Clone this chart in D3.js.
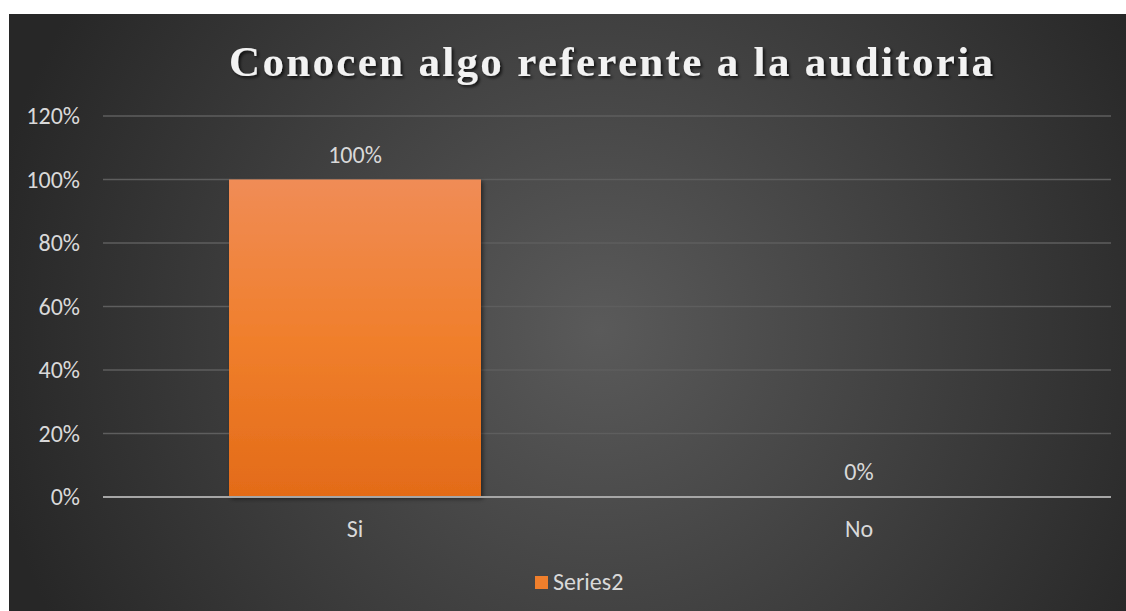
<!DOCTYPE html>
<html>
<head>
<meta charset="utf-8">
<script src="https://cdn.jsdelivr.net/npm/d3@7"></script>
<style>
  html, body { margin: 0; padding: 0; background: #fff; }
  svg { display: block; }
</style>
</head>
<body>
<svg id="svg" width="1126" height="611"></svg>
<script>
const categories = ['Si', 'No']
const values = [1.0, 0.0]
const yTicks = [0, 0.2, 0.4, 0.6, 0.8, 1.0, 1.2]
const seriesName = 'Series2'
const title = 'Conocen algo referente a la auditoria'

const W = 1126, H = 611
const plot = { left: 103, right: 1111, top: 116, bottom: 497 }
const labelFont = 'Carlito, "Open Sans", sans-serif'

const svg = d3.select('#svg')
const defs = svg.append('defs')

// background radial gradient
const bg = defs.append('radialGradient')
    .attr('id', 'bg')
    .attr('gradientUnits', 'userSpaceOnUse')
    .attr('cx', 600).attr('cy', 330).attr('r', 620)
bg.append('stop').attr('offset', '0%').attr('stop-color', '#5a5a5a')
bg.append('stop').attr('offset', '100%').attr('stop-color', '#272727')

const barGrad = defs.append('linearGradient')
    .attr('id', 'bar')
    .attr('x1', 0).attr('y1', 0).attr('x2', 0).attr('y2', 1)
barGrad.append('stop').attr('offset', '0%').attr('stop-color', '#f08c56')
barGrad.append('stop').attr('offset', '50%').attr('stop-color', '#f07f2c')
barGrad.append('stop').attr('offset', '100%').attr('stop-color', '#e36b18')

const shadow = defs.append('filter').attr('id', 'shadow')
    .attr('x', '-10%').attr('y', '-10%').attr('width', '130%').attr('height', '130%')
shadow.append('feDropShadow')
    .attr('dx', 2).attr('dy', 2).attr('stdDeviation', 2)
    .attr('flood-color', '#000').attr('flood-opacity', 0.5)

svg.append('rect')
    .attr('x', 9).attr('y', 14)
    .attr('width', W - 9).attr('height', H - 14)
    .attr('fill', 'url(#bg)')

const x = d3.scaleBand()
    .domain(categories)
    .range([plot.left, plot.right])
    .paddingInner(0.5)
    .paddingOuter(0.25)

const y = d3.scaleLinear()
    .domain([0, 1.2])
    .range([plot.bottom, plot.top])

// gridlines
svg.append('g')
    .selectAll('line')
    .data(yTicks.filter(d => d > 0))
    .enter()
    .append('line')
    .attr('x1', plot.left).attr('x2', plot.right)
    .attr('y1', d => y(d)).attr('y2', d => y(d))
    .attr('stroke', '#5e5e5e')
    .attr('stroke-width', 1.5)

// y axis labels
const yAxis = svg.append('g')
    .attr('transform', `translate(${plot.left - 23},0)`)
    .call(d3.axisLeft(y).tickValues(yTicks).tickFormat(d3.format('.0%')).tickSize(0).tickPadding(0))
yAxis.select('.domain').remove()
yAxis.selectAll('text')
    .attr('fill', '#d9d9d9')
    .style('font-family', labelFont)
    .style('font-size', '24px')

// bars
svg.append('g')
    .selectAll('rect')
    .data(values)
    .enter()
    .append('rect')
    .attr('x', (d, i) => x(categories[i]))
    .attr('y', d => y(d))
    .attr('width', x.bandwidth())
    .attr('height', d => y(0) - y(d))
    .attr('fill', 'url(#bar)')
    .attr('filter', 'url(#shadow)')

// zero axis line + category labels
const xAxis = svg.append('g')
    .attr('transform', `translate(0,${plot.bottom})`)
    .call(d3.axisBottom(x).tickSize(0).tickPadding(23))
xAxis.select('.domain')
    .attr('d', `M${plot.left},0H${plot.right}`)
    .attr('stroke', '#a6a6a6')
    .attr('stroke-width', 2)
xAxis.selectAll('text')
    .attr('fill', '#d9d9d9')
    .style('font-family', labelFont)
    .style('font-size', '24px')

// data labels
svg.append('g')
    .selectAll('text')
    .data(values)
    .enter()
    .append('text')
    .attr('x', (d, i) => x(categories[i]) + x.bandwidth() / 2)
    .attr('y', d => y(d) - 17)
    .attr('text-anchor', 'middle')
    .attr('fill', '#d9d9d9')
    .style('font-family', labelFont)
    .style('font-size', '24px')
    .text(d => d3.format('.0%')(d))

// title
const titleShadow = defs.append('filter').attr('id', 'tshadow')
titleShadow.append('feDropShadow')
    .attr('dx', 2).attr('dy', 2).attr('stdDeviation', 1.5)
    .attr('flood-color', '#000').attr('flood-opacity', 0.7)
svg.append('text')
    .attr('x', 611).attr('y', 76)
    .attr('text-anchor', 'middle')
    .attr('fill', '#f2f2f2')
    .attr('filter', 'url(#tshadow)')
    .attr('textLength', 764)
    .attr('lengthAdjust', 'spacing')
    .style('font-family', '"Liberation Serif", "Times New Roman", serif')
    .style('font-weight', 'bold')
    .style('font-size', '43px')
    .text(title)

// legend
const legend = svg.append('g').attr('transform', 'translate(535,576)')
legend.append('rect')
    .attr('width', 13).attr('height', 13)
    .attr('fill', '#f07f2c')
legend.append('text')
    .attr('x', 18).attr('y', 14)
    .attr('fill', '#d9d9d9')
    .style('font-family', labelFont)
    .style('font-size', '24px')
    .text(seriesName)
</script>
</body>
</html>
